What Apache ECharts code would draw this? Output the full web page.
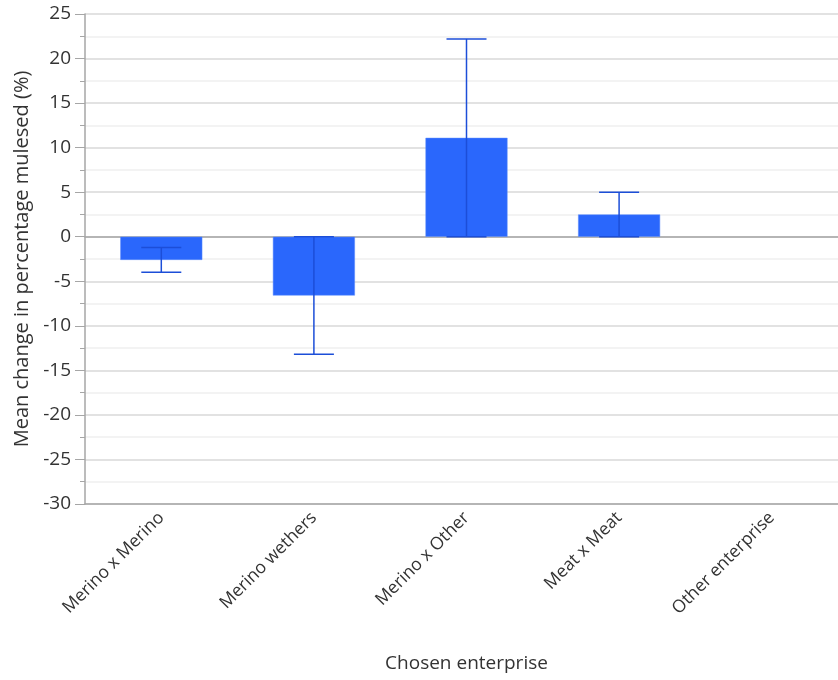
<!DOCTYPE html>
<html>
<head>
<meta charset="utf-8">
<script src="https://cdn.jsdelivr.net/npm/echarts@6/dist/echarts.min.js"></script>
<style>html,body{margin:0;padding:0;background:#fff;overflow:hidden;width:838px;height:680px;}#chart{width:848px;height:680px;}</style>
</head>
<body>
<div id="chart"></div>
<script>
const categories = ['Merino x Merino', 'Merino wethers', 'Merino x Other', 'Meat x Meat', 'Other enterprise'];
const meanValues = [-2.6, -6.6, 11.1, 2.5, null];
const errorValues = [1.4, 6.6, 11.1, 2.5, null];
const yTicks = [-30, -25, -20, -15, -10, -5, 0, 5, 10, 15, 20, 25];

const FONT = '"Open Sans", "Noto Sans", sans-serif';
const chart = echarts.init(document.getElementById('chart'));

const errData = categories.map((c, i) => meanValues[i] == null ? [i, null, null] : [i, meanValues[i] - errorValues[i], meanValues[i] + errorValues[i]]);

chart.setOption({
  animation: false,
  grid: { left: 85, right: 0, top: 14, bottom: 176, containLabel: false },
  xAxis: [{
    type: 'category',
    data: categories,
    position: 'bottom',
    axisLine: { show: true, onZero: false, lineStyle: { color: '#a6a6a6', width: 1.5 } },
    axisTick: { show: false },
    axisLabel: { rotate: 45, margin: 11, fontFamily: FONT, fontSize: 17.5, color: '#333333', interval: 0 },
    name: 'Chosen enterprise',
    nameLocation: 'middle',
    nameGap: 150,
    nameTextStyle: { fontFamily: FONT, fontSize: 19, color: '#333333' },
    splitLine: { show: false }
  }, {
    type: 'category',
    data: categories,
    position: 'top',
    axisLine: { show: true, lineStyle: { color: '#a6a6a6', width: 1.5 } },
    axisTick: { show: false },
    axisLabel: { show: false }
  }],
  yAxis: {
    type: 'value',
    min: yTicks[0],
    max: yTicks[yTicks.length - 1],
    interval: 5,
    axisLine: { show: true, lineStyle: { color: '#a6a6a6', width: 1.5 } },
    axisTick: { show: true, length: 10, lineStyle: { color: '#a6a6a6' } },
    minorTick: { show: true, splitNumber: 2, length: 5, lineStyle: { color: '#a6a6a6' } },
    axisLabel: { margin: 14, fontFamily: FONT, fontSize: 19, color: '#333333' },
    splitLine: { show: true, lineStyle: { color: '#d9d9d9', width: 1.5 } },
    minorSplitLine: { show: true, lineStyle: { color: '#efefef', width: 1.5 } },
    name: 'Mean change in percentage mulesed (%)',
    nameLocation: 'middle',
    nameGap: 52,
    nameTextStyle: { fontFamily: FONT, fontSize: 20, color: '#333333' }
  },
  series: [{
    type: 'bar',
    data: meanValues,
    barWidth: 82,
    itemStyle: { color: '#2a67fc', borderColor: '#5a8afc', borderWidth: 0.5 }
  }, {
    type: 'custom',
    data: errData,
    z: 5,
    renderItem: function (params, api) {
      const lo = api.value(1), hi = api.value(2);
      if (lo == null || hi == null || isNaN(lo)) return null;
      const x = api.value(0);
      const p1 = api.coord([x, hi]);
      const p2 = api.coord([x, lo]);
      const hw = 20;
      const style = { stroke: '#1c4ed8', lineWidth: 1.5 };
      return {
        type: 'group',
        children: [
          { type: 'line', shape: { x1: p1[0], y1: p1[1], x2: p2[0], y2: p2[1] }, style: style },
          { type: 'line', shape: { x1: p1[0] - hw, y1: p1[1], x2: p1[0] + hw, y2: p1[1] }, style: style },
          { type: 'line', shape: { x1: p2[0] - hw, y1: p2[1], x2: p2[0] + hw, y2: p2[1] }, style: style }
        ]
      };
    }
  }]
});
</script>
</body>
</html>
